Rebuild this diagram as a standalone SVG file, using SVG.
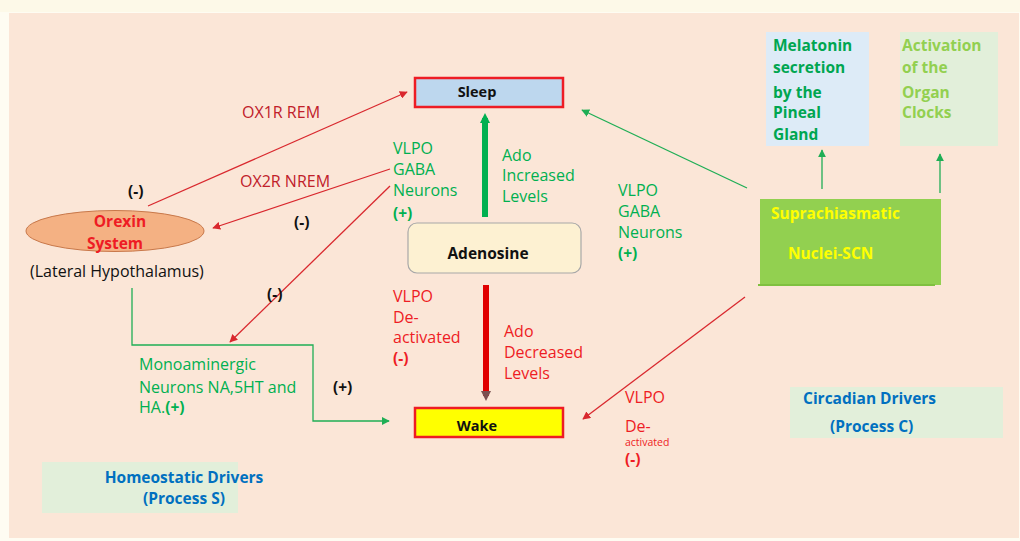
<svg xmlns="http://www.w3.org/2000/svg" width="1020" height="541" viewBox="0 0 1020 541">
<defs>
<style>
text{font-family:"Open Sans","Liberation Sans",sans-serif;font-size:16px}
.b{font-weight:bold;font-size:15.5px}
.s14{font-size:14.5px}
.sm{font-size:10.5px}
.g{fill:#00b050}
.r{fill:#ee1c24}
.dr{fill:#c0202a}
.k{fill:#111}
.bl{fill:#0070c0;font-weight:bold;font-size:15.5px}
.thinr{stroke:#d9282e;stroke-width:1.3;fill:none}
.thing{stroke:#1fae55;stroke-width:1.3;fill:none}
</style>
<marker id="ar" viewBox="0 0 10 10" refX="9" refY="5" markerWidth="8" markerHeight="8" markerUnits="userSpaceOnUse" orient="auto"><path d="M0,0 L10,5 L0,10 z" fill="#d9282e"/></marker>
<marker id="ag" viewBox="0 0 10 10" refX="9" refY="5" markerWidth="8" markerHeight="8" markerUnits="userSpaceOnUse" orient="auto"><path d="M0,0 L10,5 L0,10 z" fill="#1fae55"/></marker>
<marker id="agT" viewBox="0 0 10 10" refX="5" refY="5" markerWidth="10" markerHeight="10" markerUnits="userSpaceOnUse" orient="auto"><path d="M0,0 L10,5 L0,10 z" fill="#00b050"/></marker>
<marker id="arT" viewBox="0 0 10 10" refX="5" refY="5" markerWidth="10" markerHeight="10" markerUnits="userSpaceOnUse" orient="auto"><path d="M0,0 L10,5 L0,10 z" fill="#7a5050"/></marker>
</defs>
<rect x="0" y="0" width="1020" height="541" fill="#fefcf2"/>
<rect x="0" y="0" width="1020" height="12" fill="#fdf9e8"/>
<rect x="9" y="13" width="1010" height="525" fill="#fbe6d7"/>

<g id="connectors">
<line class="thinr" x1="148" y1="206" x2="407" y2="92" marker-end="url(#ar)"/>
<line class="thinr" x1="390" y1="169" x2="213" y2="228" marker-end="url(#ar)"/>
<line class="thinr" x1="390" y1="186" x2="230" y2="342" marker-end="url(#ar)"/>
<polyline class="thing" points="132,288 132,345 313,345 313,421 389,421" marker-end="url(#ag)"/>
<line stroke="#00b050" stroke-width="6" x1="485" y1="217" x2="485" y2="118" marker-end="url(#agT)"/>
<line stroke="#e00000" stroke-width="6" x1="486" y1="285" x2="486" y2="396" marker-end="url(#arT)"/>
<line class="thing" x1="747" y1="188" x2="582" y2="110" marker-end="url(#ag)"/>
<line class="thinr" x1="745" y1="297" x2="583" y2="419" marker-end="url(#ar)"/>
<line class="thing" x1="822" y1="189" x2="822" y2="150" marker-end="url(#ag)"/>
<line class="thing" x1="940" y1="193" x2="940" y2="154" marker-end="url(#ag)"/>
</g>

<g id="sleep">
<rect x="415" y="78" width="148" height="29" fill="#bdd7ee" stroke="#ee1c24" stroke-width="2.5"/>
<text x="477" y="97" text-anchor="middle" class="b k s14">Sleep</text>
</g>
<g id="wake">
<rect x="415" y="408" width="148" height="29" fill="#ffff00" stroke="#ee1c24" stroke-width="2.5"/>
<text x="477" y="431" text-anchor="middle" class="b k s14">Wake</text>
</g>
<g id="adenosine">
<rect x="408" y="223" width="173" height="50" rx="9" fill="#fdf1d2" stroke="#a8a8a8" stroke-width="1.2"/>
<text x="488" y="259" text-anchor="middle" class="b k">Adenosine</text>
</g>
<g id="orexin">
<ellipse cx="115" cy="231" rx="89" ry="20.5" fill="#f4b183" stroke="#c8784a" stroke-width="1"/>
<text x="120" y="227" text-anchor="middle" class="b r">Orexin</text>
<text x="115" y="249" text-anchor="middle" class="b r">System</text>
<text x="30" y="277" class="k">(Lateral Hypothalamus)</text>
</g>
<g id="melatonin">
<rect x="766" y="32" width="103" height="114" fill="#ddebf7"/>
<text x="773" y="51" class="b" fill="#00a651">Melatonin</text>
<text x="773" y="73" class="b" fill="#00a651">secretion</text>
<text x="773" y="98" class="b" fill="#00a651">by the</text>
<text x="773" y="118" class="b" fill="#00a651">Pineal</text>
<text x="773" y="140" class="b" fill="#00a651">Gland</text>
</g>
<g id="activation">
<rect x="900" y="32" width="98" height="114" fill="#e2efda"/>
<text x="902" y="51" class="b" fill="#92d050">Activation</text>
<text x="902" y="73" class="b" fill="#92d050">of the</text>
<text x="902" y="98" class="b" fill="#92d050">Organ</text>
<text x="902" y="118" class="b" fill="#92d050">Clocks</text>
</g>
<g id="scn">
<rect x="760" y="199" width="181" height="86" fill="#92d050"/>
<line x1="758" y1="285" x2="935" y2="285" stroke="#7fc040" stroke-width="2"/>
<text x="771" y="219" class="b" fill="#ffff00">Suprachiasmatic</text>
<text x="788" y="259" class="b" fill="#ffff00">Nuclei-SCN</text>
</g>
<g id="homeostatic">
<rect x="42" y="462" width="196" height="51" fill="#e2efda"/>
<text x="184" y="483" text-anchor="middle" class="bl">Homeostatic Drivers</text>
<text x="184" y="504" text-anchor="middle" class="bl">(Process S)</text>
</g>
<g id="circadian">
<rect x="790" y="387" width="213" height="51" fill="#e2efda"/>
<text x="803" y="404" class="bl">Circadian Drivers</text>
<text x="830" y="432" class="bl">(Process C)</text>
</g>

<g id="labels">
<text x="242" y="118" class="dr">OX1R REM</text>
<text x="240" y="187" class="dr">OX2R NREM</text>
<text x="128" y="197" class="b k">(-)</text>
<text x="294" y="228" class="b k">(-)</text>
<text x="267" y="300" class="b k">(-)</text>
<text x="393" y="154" class="g">VLPO</text>
<text x="393" y="175" class="g">GABA</text>
<text x="393" y="196" class="g">Neurons</text>
<text x="393" y="219" class="g b">(+)</text>
<text x="502" y="161" class="g">Ado</text>
<text x="502" y="181" class="g">Increased</text>
<text x="502" y="202" class="g">Levels</text>
<text x="618" y="196" class="g">VLPO</text>
<text x="618" y="217" class="g">GABA</text>
<text x="618" y="238" class="g">Neurons</text>
<text x="618" y="259" class="g b">(+)</text>
<text x="393" y="302" class="r">VLPO</text>
<text x="393" y="323" class="r">De-</text>
<text x="393" y="343" class="r">activated</text>
<text x="393" y="364" class="r b">(-)</text>
<text x="504" y="337" class="r">Ado</text>
<text x="504" y="358" class="r">Decreased</text>
<text x="504" y="379" class="r">Levels</text>
<text x="625" y="403" class="r">VLPO</text>
<text x="625" y="432" class="r">De-</text>
<text x="625" y="446" class="r sm">activated</text>
<text x="625" y="465" class="r b">(-)</text>
<text x="139" y="370" class="g">Monoaminergic</text>
<text x="139" y="393" class="g">Neurons NA,5HT and</text>
<text x="139" y="413" class="g">HA.<tspan class="b">(+)</tspan></text>
<text x="333" y="393" class="b k">(+)</text>
</g>
</svg>
